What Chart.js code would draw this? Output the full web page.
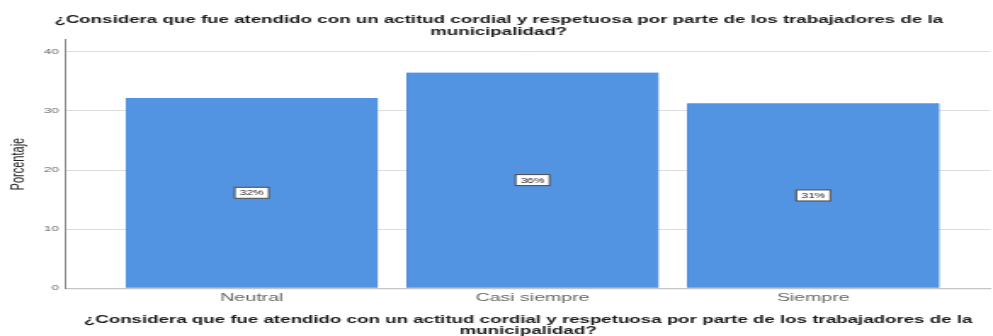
<!DOCTYPE html>
<html>
<head>
    <meta charset="utf-8">
    <title>Atención cordial y respetuosa</title>
    <script src="https://cdn.jsdelivr.net/npm/chart.js@4/dist/chart.umd.min.js"></script>
    <style>
        html, body {
            margin: 0;
            padding: 0;
            background: #ffffff;
            overflow: hidden;
        }
        /* the original image is stretched sideways, so the chart is drawn narrow and widened */
        .chart-box {
            width: 584px;
            height: 336px;
            position: relative;
            transform: scaleX(1.70034);
            transform-origin: 0 0;
        }
    </style>
</head>
<body>
    <div class="chart-box">
        <canvas id="barChart"></canvas>
    </div>

    <script>
        // Valores (porcentaje)
        const categories = ['Neutral', 'Casi siempre', 'Siempre'];
        const percentages = [32.2, 36.5, 31.3];
        const barLabels = ['32%', '36%', '31%'];
        const yTicks = [0, 10, 20, 30, 40];
        const titleLines = [
            '¿Considera que fue atendido con un actitud cordial y respetuosa por parte de los trabajadores de la',
            'municipalidad?'
        ];

        // etiquetas en cajita blanca en el centro de cada barra
        const boxLabels = {
            id: 'boxLabels',
            afterDatasetsDraw(chart) {
                const ctx = chart.ctx;
                const meta = chart.getDatasetMeta(0);
                ctx.save();
                ctx.font = '7px Arial';
                ctx.textAlign = 'center';
                ctx.textBaseline = 'middle';
                meta.data.forEach((bar, i) => {
                    const x = bar.x;
                    const y = (bar.y + bar.base) / 2;
                    const w = ctx.measureText(barLabels[i]).width + 6;
                    const h = 11;
                    ctx.fillStyle = '#ffffff';
                    ctx.fillRect(x - w / 2, y - h / 2, w, h);
                    ctx.strokeStyle = '#4a4a4a';
                    ctx.lineWidth = 1;
                    ctx.strokeRect(x - w / 2, y - h / 2, w, h);
                    ctx.fillStyle = '#222222';
                    ctx.fillText(barLabels[i], x, y + 0.5);
                });
                ctx.restore();
            }
        };

        const ctx = document.getElementById('barChart').getContext('2d');
        const chart = new Chart(ctx, {
            type: 'bar',
            data: {
                datasets: [{
                    data: percentages.map((v, i) => ({ x: i, y: v })),
                    backgroundColor: '#5294e2',
                    borderColor: '#4a88d8',
                    borderWidth: { left: 0.7, right: 0.7, top: 0, bottom: 0 },
                    barThickness: 148
                }]
            },
            options: {
                responsive: true,
                maintainAspectRatio: false,
                animation: false,
                layout: {
                    padding: { top: 0, right: 1.5, bottom: 0, left: 4 }
                },
                plugins: {
                    legend: { display: false },
                    tooltip: { enabled: false },
                    title: {
                        display: true,
                        text: titleLines,
                        color: '#1a1a1a',
                        font: { family: 'Arial', size: 11, weight: 'bold', lineHeight: 1.09 },
                        padding: { top: 14, bottom: 2 }
                    }
                },
                scales: {
                    x: {
                        type: 'linear',
                        offset: false,
                        min: -0.663,
                        max: 2.631,
                        afterBuildTicks(axis) {
                            axis.ticks = categories.map((c, i) => ({ value: i }));
                        },
                        grid: { display: false, drawTicks: false, offset: false },
                        border: { color: '#c4c4c4', width: 1.2 },
                        ticks: {
                            color: '#666666',
                            font: { family: 'Arial', size: 11.5, lineHeight: 1.2 },
                            padding: 3,
                            maxRotation: 0,
                            autoSkip: false,
                            callback: (v) => categories[v]
                        },
                        title: {
                            display: true,
                            text: titleLines,
                            color: '#1a1a1a',
                            font: { family: 'Arial', size: 11, weight: 'bold', lineHeight: 1.0 },
                            padding: { top: 6, bottom: 0 }
                        }
                    },
                    y: {
                        min: 0,
                        max: 42,
                        afterBuildTicks(axis) {
                            axis.ticks = yTicks.map(v => ({ value: v }));
                        },
                        grid: { color: '#dedede', drawTicks: false },
                        border: { color: '#8c8c8c', width: 1 },
                        ticks: {
                            color: '#666666',
                            font: { family: 'Arial', size: 8 },
                            padding: 4
                        },
                        title: {
                            display: true,
                            text: 'Porcentaje',
                            color: '#222222',
                            font: { family: 'Arial', size: 11, lineHeight: 1.2 },
                            padding: { top: 0, bottom: 4.5 }
                        }
                    }
                }
            },
            plugins: [boxLabels]
        });
    </script>
</body>
</html>
